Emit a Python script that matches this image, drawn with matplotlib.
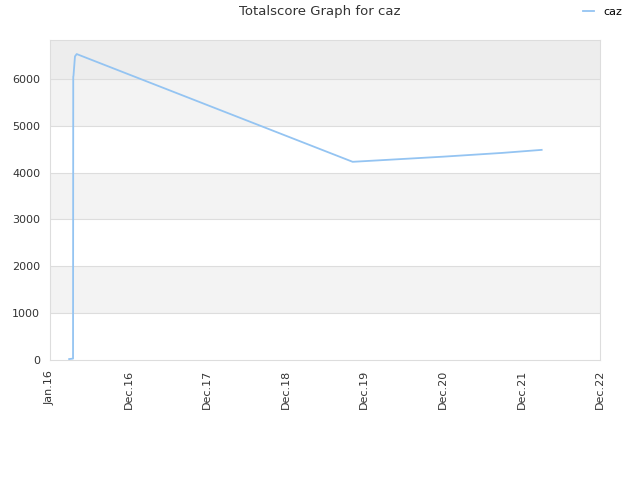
import matplotlib
matplotlib.use("Agg")
import matplotlib.pyplot as plt
import datetime as dt

dates = ["2016-03-30", "2016-04-17", "2016-04-18", "2016-04-19", "2016-04-26", "2016-05-04",
         "2019-11-07", "2020-03-01", "2021-01-01", "2021-10-01", "2022-04-03"]
scores = [20, 30, 6050, 6060, 6480, 6530, 4230, 4260, 4340, 4420, 4485]

tick_dates = ["2016-01-01", "2016-12-31", "2017-12-31", "2018-12-31", "2019-12-31",
              "2020-12-30", "2021-12-30", "2022-12-30"]
tick_labels = ["Jan.16", "Dec.16", "Dec.17", "Dec.18", "Dec.19", "Dec.20", "Dec.21", "Dec.22"]
yticks = [0, 1000, 2000, 3000, 4000, 5000, 6000]

x = [dt.datetime.strptime(d, "%Y-%m-%d") for d in dates]
xt = [dt.datetime.strptime(d, "%Y-%m-%d") for d in tick_dates]

fig = plt.figure(figsize=(6.4, 4.8), dpi=100)
ax = fig.add_axes([50/640, 120/480, 550/640, 320/480])
ymax = 6830
ax.set_xlim(xt[0], xt[-1])
ax.set_ylim(0, ymax)

bands = [(1000, 2000, "#f3f3f3"), (3000, 4000, "#f3f3f3"), (5000, 6000, "#f3f3f3"), (6000, ymax, "#ededed")]
for lo, hi, c in bands:
    ax.axhspan(lo, hi, color=c, zorder=0, lw=0)
for yv in yticks[1:]:
    ax.axhline(yv, color="#dddddd", lw=0.8, zorder=1)

ax.plot(x, scores, color="#94c4f2", lw=1.3, zorder=3, label="caz")

ax.set_xticks(xt)
ax.set_xticklabels(tick_labels, rotation=90, fontsize=8, color="#333333")
ax.set_yticks(yticks)
ax.set_yticklabels([str(v) for v in yticks], fontsize=8, color="#333333")
ax.tick_params(length=0, pad=7)
for s in ax.spines.values():
    s.set_color("#dddddd")

fig.text(320/640, 1 - 12/480, "Totalscore Graph for caz", ha="center", va="center", fontsize=9.5, color="#333333")
fig.legend(loc="upper right", bbox_to_anchor=(1 - 8/640, 1 + 3/480), frameon=False, fontsize=8,
           handlelength=1.0, handletextpad=0.8)

fig.savefig("out.png", dpi=100)
